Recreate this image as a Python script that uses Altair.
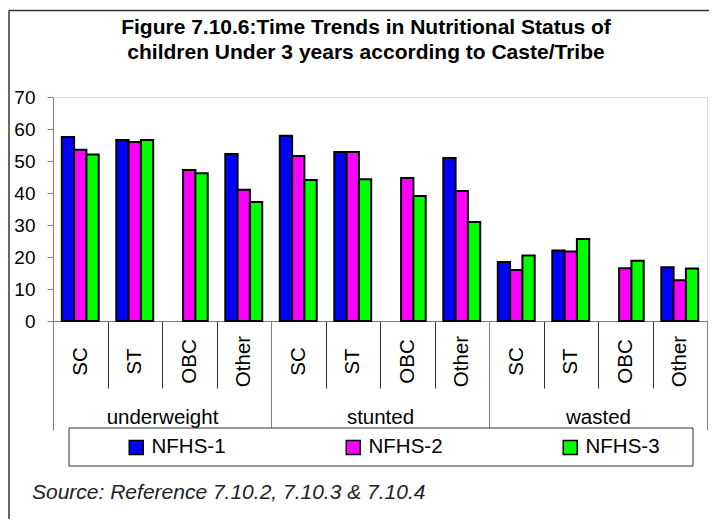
import altair as alt
import pandas as pd

groups = ["underweight", "stunted", "wasted"]
castes = ["SC", "ST", "OBC", "Other"]
series = ["NFHS-1", "NFHS-2", "NFHS-3"]
nfhs1 = [57.5, 56.6, None, 52.2, 57.9, 52.8, None, 50.9, 18.4, 22.0, None, 16.8]
nfhs2 = [53.5, 55.9, 47.2, 41.0, 51.6, 52.8, 44.7, 40.6, 15.9, 21.7, 16.5, 12.7]
nfhs3 = [52.0, 56.6, 46.2, 37.2, 44.1, 44.3, 39.1, 30.9, 20.5, 25.6, 18.8, 16.4]
colors = ["#0000FF", "#FF00FF", "#00FF00"]
title_lines = [
    "Figure 7.10.6:Time Trends in Nutritional Status of",
    "children Under 3 years according to Caste/Tribe",
]
source_text = "Source: Reference 7.10.2, 7.10.3 & 7.10.4"
y_ticks = [0, 10, 20, 30, 40, 50, 60, 70]

FONT = "Liberation Sans"
W, H = 654, 224

keys = [f"{g}|{c}" for g in groups for c in castes]
rows = []
for s, vals in zip(series, [nfhs1, nfhs2, nfhs3]):
    for k, v in zip(keys, vals):
        if v is not None:
            rows.append({"key": k, "series": s, "value": v})
df = pd.DataFrame(rows)

bars = alt.Chart(df).mark_bar(stroke="black", strokeWidth=2).encode(
    x=alt.X(
        "key:N",
        sort=keys,
        scale=alt.Scale(domain=keys, paddingInner=0, paddingOuter=0),
        axis=alt.Axis(
            title=None, orient="bottom",
            labelExpr="split(datum.value, '|')[1]",
            labelAngle=-90, labelAlign="center", labelBaseline="middle",
            labelPadding=-27, tickBand="extent", tickSize=67,
            tickColor="#333333", tickWidth=1, domainColor="#808080",
            labelFontSize=20.5, labelFont=FONT, labelColor="black",
            labelOverlap=False,
        ),
    ),
    xOffset=alt.XOffset(
        "series:N",
        scale=alt.Scale(domain=series, paddingInner=0, paddingOuter=0.715),
    ),
    y=alt.Y(
        "value:Q",
        scale=alt.Scale(domain=[0, 70], nice=False),
        axis=alt.Axis(
            title=None, values=y_ticks, grid=False, tickSize=6,
            labelPadding=12, domainColor="#808080", tickColor="#808080",
            labelFontSize=19, labelFont=FONT, labelColor="black",
        ),
    ),
    color=alt.Color(
        "series:N",
        scale=alt.Scale(domain=series, range=colors),
        legend=alt.Legend(
            title=None, orient="none", legendX=73, legendY=340,
            direction="horizontal", columns=3, columnPadding=117,
            symbolType="square", symbolSize=196, symbolStrokeColor="black",
            symbolStrokeWidth=1.5, symbolOpacity=1,
            labelFontSize=20.5, labelFont=FONT, labelColor="black",
            labelOffset=5, padding=0,
        ),
    ),
)

grp = alt.Chart(pd.DataFrame({"group": groups})).mark_tick(opacity=0).encode(
    x=alt.X(
        "group:N",
        sort=groups,
        scale=alt.Scale(domain=groups, paddingInner=0, paddingOuter=0),
        axis=alt.Axis(
            title=None, orient="bottom", tickBand="extent", tickSize=109,
            labelPadding=-13, labelAngle=0, labelAlign="center",
            labelBaseline="middle", domain=False, tickColor="#808080",
            tickWidth=1, labelFontSize=20.5, labelFont=FONT, labelColor="black",
        ),
    ),
)

dummy = pd.DataFrame({"label": [source_text]})

frame_top = alt.Chart(dummy).mark_rule(color="#333333", strokeWidth=1.5).encode(
    x=alt.value(-44), x2=alt.value(W + 2), y=alt.value(-86.5)
)
frame_left = alt.Chart(dummy).mark_rule(color="#333333", strokeWidth=1.5).encode(
    x=alt.value(-44), y=alt.value(-86.5), y2=alt.value(H + 198)
)
legend_box = alt.Chart(dummy).mark_rect(fill="white", stroke="#333333", strokeWidth=1).encode(
    x=alt.value(16), x2=alt.value(640), y=alt.value(331), y2=alt.value(369)
)
source = alt.Chart(dummy).mark_text(
    align="left", baseline="alphabetic", fontSize=21, fontStyle="italic",
    font=FONT, color="#222222",
).encode(x=alt.value(-21), y=alt.value(402), text="label:N")

chart = alt.layer(frame_top, frame_left, legend_box, bars, grp, source).resolve_scale(
    x="independent"
).properties(
    width=W, height=H,
    title=alt.TitleParams(
        text=title_lines, fontSize=21, font=FONT, fontWeight="bold",
        anchor="middle", frame="group", dx=-14, offset=-53.5, lineHeight=25,
        color="black",
    ),
    autosize=alt.AutoSizeParams(type="none"),
    padding={"left": 45, "top": 89, "right": 2, "bottom": 198},
).configure_view(stroke=None).configure(background="white")

chart.save("out.html", embed_options={"renderer": "svg", "actions": False})
